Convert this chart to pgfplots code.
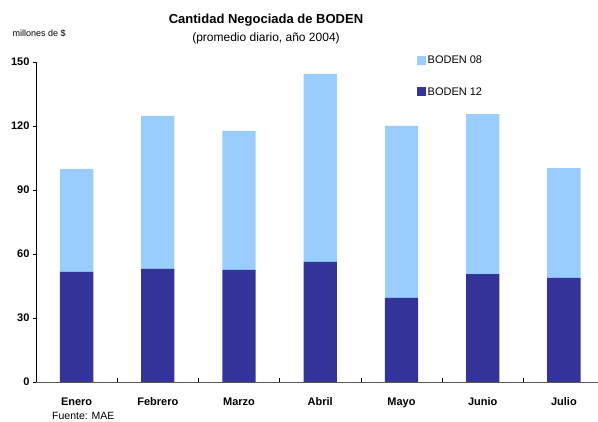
\documentclass[border=0pt]{standalone}
\usepackage{fontspec}
\setmainfont{Liberation Sans}
\usepackage{pgfplots}
\pgfplotsset{compat=1.18}
\definecolor{bdark}{HTML}{333399}
\definecolor{blight}{HTML}{99CCFF}
\begin{document}
\begin{tikzpicture}
\useasboundingbox (0pt,0pt) rectangle (598pt,422pt);
\begin{axis}[
  at={(36pt,40pt)}, anchor=south west,
  scale only axis, width=562pt, height=320pt,
  ybar stacked, bar width=0.41,
  xmin=-0.5, xmax=6.42, ymin=0, ymax=150,
  axis x line*=bottom, axis y line*=left,
  x axis line style={gray!70!black},
  xtick={0,...,6},
  xticklabels={Enero,Febrero,Marzo,Abril,Mayo,Junio,Julio},
  major x tick style={draw=none},
  minor xtick={0.5,1.5,...,5.5},
  minor x tick style={black, thin},
  minor tick length=4pt,
  xtick align=inside,
  ytick={0,30,...,150},
  ytick align=outside, major tick length=3pt,
  y tick style={black, thin},
  ticklabel style={font=\fontsize{11}{13}\selectfont\bfseries},
  xticklabel style={yshift=-12pt},
  /pgf/number format/assume math mode=true,
  legend style={at={(0.677,1.025)}, anchor=north west, draw=none, fill=none,
    font=\fontsize{11}{13}\selectfont, row sep=18pt, inner sep=0pt},
  legend cell align=left,
  reverse legend,
  legend image code/.code={\fill[#1] (0pt,-4.5pt) rectangle (9pt,4.5pt);},
]
\addplot[fill=bdark, draw=none] coordinates {(0,51.6) (1,53.0) (2,52.5) (3,56.3) (4,39.4) (5,50.6) (6,48.8)};
\addplot[fill=blight, draw=none] coordinates {(0,48.3) (1,71.7) (2,65.2) (3,88.1) (4,80.6) (5,75.0) (6,51.5)};
\legend{BODEN 12, BODEN 08}
\end{axis}
\node[font=\fontsize{13}{15}\selectfont\bfseries] at (266pt,402pt) {Cantidad Negociada de BODEN};
\node[font=\fontsize{12}{14}\selectfont] at (266pt,384pt) {(promedio diario, año 2004)};
\node[anchor=west, font=\fontsize{9}{11}\selectfont] at (9pt,389pt) {millones de \$};
\node[anchor=base west, inner sep=0pt, font=\fontsize{10.5}{12}\selectfont] at (52pt,2.5pt) {Fuente: MAE};
\end{tikzpicture}
\end{document}
